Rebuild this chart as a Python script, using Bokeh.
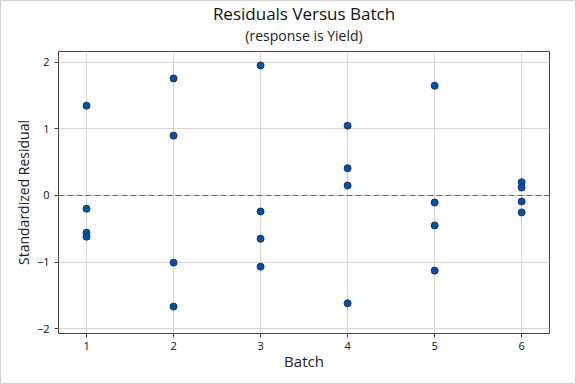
from bokeh.plotting import figure
from bokeh.models import Range1d, Title, Span, FixedTicker, ColumnDataSource
from bokeh.embed import file_html
from bokeh.resources import INLINE

batch = [1, 1, 1, 1,
         2, 2, 2, 2,
         3, 3, 3, 3,
         4, 4, 4, 4,
         5, 5, 5, 5,
         6, 6, 6, 6]
resid = [1.35, -0.20, -0.56, -0.62,
         1.76, 0.90, -1.01, -1.67,
         1.955, -0.24, -0.65, -1.07,
         1.05, 0.41, 0.15, -1.62,
         1.65, -0.105, -0.45, -1.13,
         0.20, 0.12, -0.09, -0.255]
x_ticks = [1, 2, 3, 4, 5, 6]
y_ticks = [-2, -1, 0, 1, 2]

title_text = "Residuals Versus Batch"
subtitle_text = "(response is Yield)"
x_label = "Batch"
y_label = "Standardized Residual"

FONT = "Open Sans"

p = figure(width=576, height=384, output_backend="svg", toolbar_location=None,
           x_range=Range1d(0.678, 6.32), y_range=Range1d(-2.075, 2.165),
           min_border_left=58, min_border_right=27, min_border_bottom=51, min_border_top=51)

p.title.text = ""
p.add_layout(Title(text=subtitle_text, align="center", text_font=FONT,
                   text_font_size="14px", text_font_style="normal", text_color="#222222",
                   standoff=14), "above")
p.add_layout(Title(text=title_text, align="center", text_font=FONT,
                   text_font_size="17px", text_font_style="normal", text_color="#111111",
                   standoff=-16), "above")

p.outline_line_color = "#444444"
p.outline_line_width = 1
p.background_fill_color = "white"
p.border_fill_color = "white"
p.border_fill_alpha = 0
p.styles = {"box-shadow": "inset 0 0 0 1px #D4D4D4"}

p.xgrid.grid_line_color = "#D6D6D6"
p.ygrid.grid_line_color = "#D6D6D6"
p.xaxis.ticker = FixedTicker(ticks=x_ticks)
p.yaxis.ticker = FixedTicker(ticks=y_ticks)

for ax in (p.xaxis, p.yaxis):
    ax.axis_line_color = None
    ax.major_tick_in = 0
    ax.major_tick_out = 4
    ax.major_tick_line_color = "#444444"
    ax.minor_tick_line_color = None
    ax.major_label_text_font = FONT
    ax.major_label_text_font_size = "11px"
    ax.major_label_text_color = "#111111"
    ax.axis_label_text_font = FONT
    ax.axis_label_text_font_style = "normal"
    ax.axis_label_text_color = "#222222"

p.xaxis.axis_label = x_label
p.yaxis.axis_label = y_label
p.xaxis.axis_label_text_font_size = "15px"
p.yaxis.axis_label_text_font_size = "14px"
p.xaxis.major_label_standoff = 4
p.yaxis.major_label_standoff = 5
p.xaxis.axis_label_standoff = -2
p.yaxis.axis_label_standoff = 1

p.add_layout(Span(location=0, dimension="width", line_color="#666666",
                  line_dash="6 3", line_width=1))

src = ColumnDataSource(dict(x=batch, y=resid))
p.scatter("x", "y", source=src, size=7, fill_color="#0054A6",
          line_color="#1B2F6E", line_width=1)

open("out.html", "w").write(file_html(p, INLINE))
